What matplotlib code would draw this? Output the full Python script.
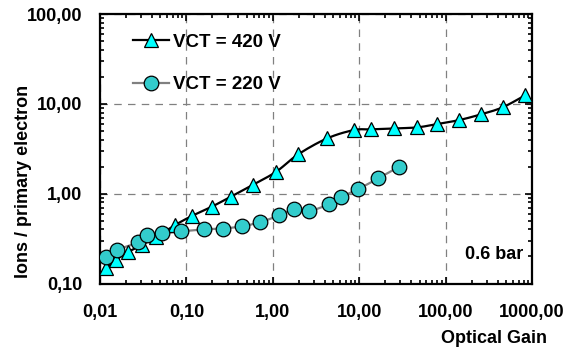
import numpy as np
import matplotlib
matplotlib.use("Agg")
import matplotlib.pyplot as plt
from matplotlib.ticker import LogLocator, FixedLocator, NullFormatter

plt.rcParams['font.family'] = ['Liberation Sans', 'DejaVu Sans']
plt.rcParams['font.weight'] = 'bold'

# VCT = 420 V
gain_420 = [0.0116, 0.0152, 0.0213, 0.0304, 0.0445, 0.0738, 0.115, 0.196, 0.326,
            0.585, 1.09, 1.97, 4.27, 8.71, 13.7, 25.5, 47.0, 80.2, 144, 257, 458, 830]
ions_420 = [0.147, 0.182, 0.225, 0.268, 0.331, 0.447, 0.563, 0.715, 0.923,
            1.25, 1.75, 2.74, 4.13, 5.11, 5.20, 5.33, 5.47, 5.96, 6.6, 7.64, 9.15, 12.4]

# VCT = 220 V
gain_220 = [0.0116, 0.0156, 0.0277, 0.0351, 0.0526, 0.0859, 0.160, 0.262, 0.437,
            0.711, 1.19, 1.77, 2.66, 4.43, 6.15, 9.77, 16.6, 28.9]
ions_220 = [0.195, 0.236, 0.287, 0.346, 0.361, 0.380, 0.400, 0.409, 0.433,
            0.481, 0.573, 0.670, 0.643, 0.762, 0.912, 1.125, 1.48, 1.99]

x_ticks = [0.01, 0.1, 1, 10, 100, 1000]
x_labels = ['0,01', '0,10', '1,00', '10,00', '100,00', '1000,00']
y_ticks = [0.1, 1, 10, 100]
y_labels = ['0,10', '1,00', '10,00', '100,00']


def smooth(xs, ys, n=12):
    # Catmull-Rom curve through the points, computed in log-log space
    p = np.column_stack([np.log10(xs), np.log10(ys)])
    p = np.vstack([2 * p[0] - p[1], p, 2 * p[-1] - p[-2]])
    t = np.linspace(0, 1, n, endpoint=False)[:, None]
    out = []
    for i in range(1, len(p) - 2):
        p0, p1, p2, p3 = p[i - 1], p[i], p[i + 1], p[i + 2]
        seg = 0.5 * ((2 * p1) + (-p0 + p2) * t + (2 * p0 - 5 * p1 + 4 * p2 - p3) * t ** 2
                     + (-p0 + 3 * p1 - 3 * p2 + p3) * t ** 3)
        out.append(seg)
    out.append(p[-2][None, :])
    out = np.vstack(out)
    return 10 ** out[:, 0], 10 ** out[:, 1]


fig = plt.figure(figsize=(5.7, 3.51), dpi=100)
ax = fig.add_axes([0.1754, 0.1923, 0.7579, 0.7678])
ax.set_xscale('log')
ax.set_yscale('log')
ax.set_xlim(0.01, 1000)
ax.set_ylim(0.1, 100)

sx, sy = smooth(gain_420, ions_420)
ax.plot(sx, sy, color='black', lw=1.6, zorder=3)
sx, sy = smooth(gain_220, ions_220)
ax.plot(sx, sy, color='#808080', lw=1.6, zorder=3)

ax.plot(gain_420, ions_420, ls='none', marker='^', ms=10, mfc='#00FFFF',
        mec='black', mew=0.9, zorder=4)
ax.plot(gain_220, ions_220, ls='none', marker='o', ms=10.5, mfc='#33CCCC',
        mec='black', mew=0.9, zorder=5)

# legend handles
h1, = ax.plot([], [], color='black', lw=1.6, marker='^', ms=10, mfc='#00FFFF',
              mec='black', mew=0.9)
h2, = ax.plot([], [], color='#808080', lw=1.6, marker='o', ms=10.5, mfc='#33CCCC',
              mec='black', mew=0.9)
leg = ax.legend([h1, h2], ['VCT = 420 V', 'VCT = 220 V'], loc='upper left',
                frameon=False, fontsize=13.5, handlelength=1.95, handletextpad=0.2,
                labelspacing=1.35, borderaxespad=0.3, bbox_to_anchor=(0.045, 0.975))
for t in leg.get_texts():
    t.set_fontweight('bold')

ax.xaxis.set_major_locator(FixedLocator(x_ticks))
ax.set_xticklabels(x_labels)
ax.yaxis.set_major_locator(FixedLocator(y_ticks))
ax.set_yticklabels(y_labels)
ax.xaxis.set_minor_locator(LogLocator(base=10, subs=np.arange(2, 10)))
ax.yaxis.set_minor_locator(LogLocator(base=10, subs=np.arange(2, 10)))
ax.xaxis.set_minor_formatter(NullFormatter())
ax.yaxis.set_minor_formatter(NullFormatter())

ax.tick_params(which='both', direction='in', top=True, right=True, width=1.2,
               labelsize=13)
ax.tick_params(which='major', length=5)
ax.tick_params(which='minor', length=3)
ax.tick_params(axis='x', which='major', pad=15)
ax.tick_params(axis='y', which='major', pad=12.5)
for lab in ax.get_xticklabels() + ax.get_yticklabels():
    lab.set_fontweight('bold')

ax.grid(True, which='major', color='#808080', ls=(0, (6, 5)), lw=0.9)
for s in ax.spines.values():
    s.set_linewidth(1.6)

ax.text(0.979, 0.106, '0.6 bar', transform=ax.transAxes, ha='right', va='center',
        fontsize=13, fontweight='bold')
fig.text(24 / 570, 1 - 181 / 351, 'Ions / primary electron', rotation=90,
         ha='center', va='center', fontsize=13, fontweight='bold')
fig.text(0.96, 0.035, 'Optical Gain', ha='right', va='center', fontsize=13,
         fontweight='bold')

fig.savefig('out.png', dpi=100)
